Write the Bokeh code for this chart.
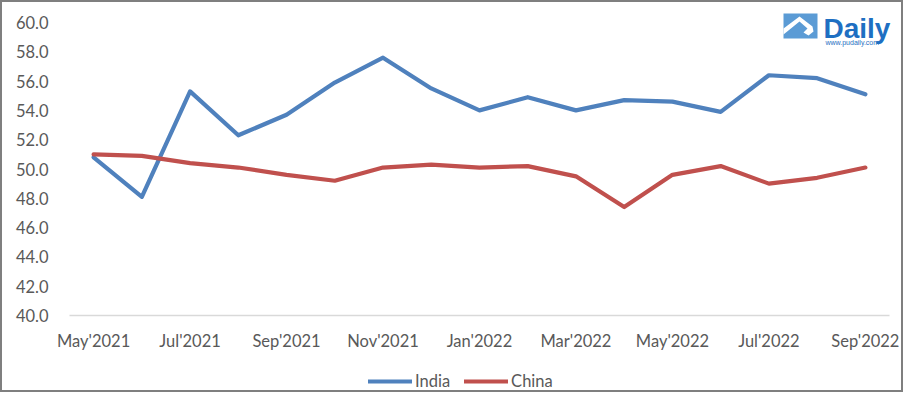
from bokeh.plotting import figure
from bokeh.models import (Range1d, FixedTicker, NumeralTickFormatter, Legend, LegendItem,
                          Label, BoxAnnotation, PolyAnnotation)
from bokeh.embed import file_html
from bokeh.resources import INLINE

months = ["May'2021", "Jun'2021", "Jul'2021", "Aug'2021", "Sep'2021", "Oct'2021",
          "Nov'2021", "Dec'2021", "Jan'2022", "Feb'2022", "Mar'2022", "Apr'2022",
          "May'2022", "Jun'2022", "Jul'2022", "Aug'2022", "Sep'2022"]
india = [50.8, 48.1, 55.3, 52.3, 53.7, 55.9, 57.6, 55.5, 54.0, 54.9, 54.0, 54.7,
         54.6, 53.9, 56.4, 56.2, 55.1]
china = [51.0, 50.9, 50.4, 50.1, 49.6, 49.2, 50.1, 50.3, 50.1, 50.2, 49.5, 47.4,
         49.6, 50.2, 49.0, 49.4, 50.1]
y_ticks = [40, 42, 44, 46, 48, 50, 52, 54, 56, 58, 60]

FONT = "Lato"
TXT = "#595959"
FS = "16.5px"

x = list(range(len(months)))

# The frame fills the whole canvas; both axes are pinned (x at y=40, y at the
# left edge of the first category) so labels, logo and legend lie inside it.
p = figure(width=903, height=392, output_backend="svg", toolbar_location=None,
           x_range=Range1d(-1.889, 16.832), y_range=Range1d(34.608, 61.365),
           min_border_left=0, min_border_right=0, min_border_top=0, min_border_bottom=0)
p.styles = {"border": "2px solid #7f7f7f"}
p.outline_line_color = None
p.xgrid.grid_line_color = None
p.ygrid.grid_line_color = None

r1 = p.line(x, india, line_color="#4f81bd", line_width=4.2, line_join="round", line_cap="round")
r2 = p.line(x, china, line_color="#c0504d", line_width=4.2, line_join="round", line_cap="round")

p.yaxis.fixed_location = -0.5
p.yaxis.ticker = FixedTicker(ticks=y_ticks)
p.yaxis.formatter = NumeralTickFormatter(format="0.0")
p.yaxis.axis_line_color = None
p.yaxis.major_tick_line_color = None
p.yaxis.minor_tick_line_color = None
p.yaxis.major_tick_out = 0
p.yaxis.major_tick_in = 0
p.yaxis.major_label_standoff = 21

p.xaxis.fixed_location = y_ticks[0]
p.xaxis.bounds = (-0.5, len(months) - 0.5)
p.xaxis.ticker = FixedTicker(ticks=x[::2])
p.xaxis.major_label_overrides = {i: months[i] for i in x[::2]}
p.xaxis.axis_line_color = "#d9d9d9"
p.xaxis.axis_line_width = 1.5
p.xaxis.major_tick_line_color = None
p.xaxis.minor_tick_line_color = None
p.xaxis.major_tick_out = 0
p.xaxis.major_tick_in = 0
p.xaxis.major_label_standoff = 15

for ax in (p.xaxis[0], p.yaxis[0]):
    ax.major_label_text_font = FONT
    ax.major_label_text_font_size = FS
    ax.major_label_text_color = TXT

legend = Legend(items=[LegendItem(label="India", renderers=[r1]),
                       LegendItem(label="China", renderers=[r2])],
                orientation="horizontal", location=(366, 3))
legend.border_line_color = None
legend.background_fill_alpha = 0
legend.label_text_font = FONT
legend.label_text_font_size = FS
legend.label_text_color = TXT
legend.glyph_width = 44
legend.glyph_height = 18
legend.label_standoff = 3
legend.spacing = 14
legend.padding = 0
legend.margin = 0
p.add_layout(legend)

# logo (decoration)
p.add_layout(BoxAnnotation(left=779, right=813, top=9, bottom=34, left_units="canvas",
                           right_units="canvas", top_units="canvas", bottom_units="canvas",
                           fill_color="#5b9bd5", fill_alpha=1, line_color=None))
p.add_layout(PolyAnnotation(xs=[779, 795, 808, 809, 804, 799, 803, 795, 779],
                            ys=[24, 12, 22, 27, 31, 28, 24, 17, 30],
                            xs_units="canvas", ys_units="canvas",
                            fill_color="white", fill_alpha=1, line_color=None))
p.add_layout(Label(x=819, y=8, x_units="canvas", y_units="canvas", text="Daily",
                   text_font="Liberation Sans", text_font_style="bold", text_font_size="28px",
                   text_color="#1e6fc2", text_baseline="top"))
p.add_layout(Label(x=821, y=34, x_units="canvas", y_units="canvas", text="www.pudaily.com",
                   text_font="Liberation Sans", text_font_size="7px", text_color="#1e6fc2",
                   text_baseline="top"))

open("out.html", "w").write(file_html(p, INLINE))
